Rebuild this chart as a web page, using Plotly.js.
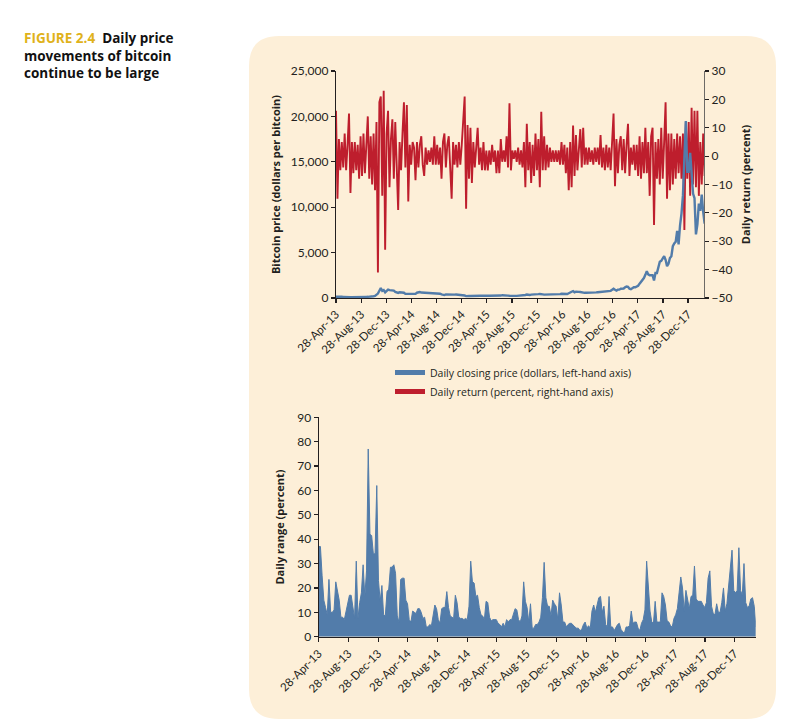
<!DOCTYPE html>
<html>
<head>
<meta charset="utf-8">
<script src="https://cdn.plot.ly/plotly-3.0.1.min.js"></script>
<style>
html,body{margin:0;padding:0;background:#ffffff;}
#chart{width:791px;height:723px;}
</style>
</head>
<body>
<div id="chart"></div>
<script>
// Weekly samples starting 28-Apr-2013
var startDate = '2013-04-28';

// Daily closing price, dollars (left-hand axis)
var price2013 = [135,115,115,122,130,120,100,100,105,88,77,95,90,97,105,105,113,122,140,130,130,125,130,130,145,175,190,220,320,490,800,1100,780,870,620,750];
var price2014 = [930,860,840,800,810,680,630,560,640,630,630,580,450,450,420,500,440,430,440,450,580,650,650,600,590,640,630,620,620,590,590,570,500,510,480,480,470,400,380,320,390,380,350,330,365,390,375,380,375,350,320,315];
var price2015 = [280,270,210,250,220,220,235,240,260,290,285,265,250,255,235,225,225,240,240,235,240,230,225,235,245,250,270,310,280,290,280,265,255,230,230,240,230,230,235,240,245,270,290,330,380,330,325,370,395,435,440,425];
var price2016 = [430,445,380,400,375,375,405,440,435,405,415,410,425,420,420,430,460,445,460,455,445,530,575,690,760,630,700,650,670,660,610,590,570,580,575,610,605,610,605,610,615,640,655,700,710,705,730,735,765,775,790,900];
var price2017 = [1020,900,820,920,920,1020,1000,1050,1180,1270,1230,1020,970,1090,1180,1180,1250,1350,1580,1760,2050,2200,2550,2950,2600,2500,2500,2500,1930,2750,2750,3250,4000,4100,4350,4600,4200,3500,3780,4400,4600,5700,6000,6200,7400,5900,8000,9300,11300,15200,19500,13900,13900];
var price2018 = [16000,13000,11500,11000,7000,8100,10400,9600,11400,9500,8200,8400];

// Daily return, percent (right-hand axis)
var dailyReturn = [
16,-15,6,-5,5,-4,8,-5,4,15,
-13,5,-6,5,-5,4,-8,7,-7,8,
-6,5,14,-8,7,-10,8,-12,12,-41,
19,21,-14,23,-33,8,16,-11,6,13,
-8,12,-6,-19,5,-5,8,19,-4,18,
-16,4,-3,5,3,-8.5,5,-4,4,7,
-3,-7,3,-3,2,-2,3,-3,7,-3,
4,-3,3,-8,5,8,-4,4,7,-4,
-15,5,-3,4,-4,5,-3,4,11,21,
-18.5,11,-8,10,-9.5,5,-4,4,10,-3,
3,-5,5,-5,2,-5,2,-3,4,-2,
2,-6,2,-6,6,-2,2,-2,7,-4,
18.6,-5,2,-1,2,-2,3,-3,2,-4,
5,-11,11.4,-5,5,-9.5,4,-7,8,-5,
6,-11,15.6,-5,7,-5,4,-4,3,-2,
2,-2,2,-2,2,-3,5,-3,4,-6,
3,-12,5,-11,10.8,-7,7.4,-5,4,9.5,
-4,10,-3,3,-3,3,-2,2,-3,3,
-2,3,-3,7.4,-4,3,-5,4,-4,3,
-5,5,15,-10.6,6,-6,4,7,-5,6,
-6,4,11.4,-7,3,-3,4,-5,4,-7,
7,-8,5,-6,10,-6,5,-14,7,10,
-24.3,5,-8,6,-10,10,-8,5,19,-15,
8,-12,8,-10,6,-8,8,-6,7,-8,
8,-26,12,-8,12,-14,17,-10,16,-11,
16,-14,5,-10,8,-7,5];

// Daily range, percent
var dailyRange = [
37,37,25,15,12,9,23.5,10,10,11,
22.5,18,15,8,8,7,10.5,12.5,17,17,
12,7.5,31,7.5,14,18,29.5,16.5,27,77,
42,41.5,34,34,62,23,14.5,21,9,8.5,
18.5,19.5,28.5,28.5,29.5,26,8.5,6,23.5,24,
24,15,13.5,7,6,10.5,10,9.5,11.5,11.5,
10,7.5,8,4,4,5,4.5,8,13,11.5,
7,5.5,11.5,12,12,18.5,12,8.5,8,7.5,
17,14,8,7.5,7.5,7,7.5,7,12.5,31,
22.5,22,16.5,17,12,9,8.5,7,14.5,14,
8,6.5,7,7,7,5.5,5,4,5.5,4,
7,6,7,7,9.5,11.5,11,7,6,8.5,
22.5,14.5,12,6,13.5,3.5,3.5,5,5,6,
8,16,30.5,16,12.5,12.5,8.5,15,13.5,12.5,
7,18,13,6,6,4,5,5.5,5.5,4.5,
4,3.5,3.5,2.5,3,5,6,3.5,4.5,3.5,
10.5,13,10,13,16,16.5,10,12.5,5,4,
16.5,4,4,2.5,4,5,5.5,3,2,1.5,
4,4,4.5,10.5,5.5,6,6,3.5,2.5,5.5,
7,11,31,21,10.5,6,5.5,14.5,6,6,
6,18,16.5,13,6.5,6,4.5,4,7.5,9,
11.5,18,24.5,20,10.5,19,15.5,11.5,16.5,17,
29,15.5,14.5,14.5,14.5,13,12,14,24,27,
12.5,9.5,9,13.5,10,10,14,20,10.5,13.5,
20,28,35.5,19,18,19,36.5,19,17,30,
14,12,12.5,15.5,16,12.5,4];

// Tick labels
var tickDates = ['2013-04-28','2013-08-28','2013-12-28','2014-04-28','2014-08-28','2014-12-28','2015-04-28','2015-08-28','2015-12-28','2016-04-28','2016-08-28','2016-12-28','2017-04-28','2017-08-28','2017-12-28'];
var tickLabels = ['28-Apr-13','28-Aug-13','28-Dec-13','28-Apr-14','28-Aug-14','28-Dec-14','28-Apr-15','28-Aug-15','28-Dec-15','28-Apr-16','28-Aug-16','28-Dec-16','28-Apr-17','28-Aug-17','28-Dec-17'];

var closingPrice = [].concat(price2013, price2014, price2015, price2016, price2017, price2018);

// weekly date grid
var dates = [];
var t0 = Date.UTC(2013, 3, 28);
for (var i = 0; i < closingPrice.length; i++) {
  var d = new Date(t0 + i * 7 * 86400000);
  dates.push(d.toISOString().slice(0, 10));
}

var BLUE = '#527CAA';
var RED = '#BE1E2D';
var INK = '#231F20';
var FONT = 'Lato, "Open Sans", sans-serif';
var BFONT = '"Open Sans", Lato, sans-serif';

function px(x) { return x / 791; }
function py(y) { return 1 - y / 723; }

var traces = [
  {x: dates, y: dailyReturn, type: 'scatter', mode: 'lines', xaxis: 'x', yaxis: 'y',
   line: {color: RED, width: 1.9}, showlegend: false, hoverinfo: 'skip'},
  {x: dates, y: closingPrice, type: 'scatter', mode: 'lines', xaxis: 'x', yaxis: 'y2',
   line: {color: BLUE, width: 2.4}, showlegend: false, hoverinfo: 'skip'},
  {x: [null], y: [null], type: 'scatter', mode: 'lines', xaxis: 'x', yaxis: 'y2',
   name: 'Daily closing price (dollars, left-hand axis)', line: {color: BLUE, width: 5}, showlegend: true},
  {x: [null], y: [null], type: 'scatter', mode: 'lines', xaxis: 'x', yaxis: 'y',
   name: 'Daily return (percent, right-hand axis)', line: {color: RED, width: 5}, showlegend: true},
  {x: dates, y: dailyRange, type: 'scatter', mode: 'lines', xaxis: 'x2', yaxis: 'y3',
   fill: 'tozeroy', fillcolor: BLUE, line: {color: BLUE, width: 1}, showlegend: false, hoverinfo: 'skip'}
];

var axisCommon = {
  showgrid: false, zeroline: false, showline: true, linecolor: INK, linewidth: 1.2,
  ticks: 'outside', ticklen: 4, tickwidth: 1.2, tickcolor: INK,
  tickfont: {family: FONT, size: 12, color: INK}
};

function merge(a, b) { var o = {}; for (var k in a) o[k] = a[k]; for (var k2 in b) o[k2] = b[k2]; return o; }

var r = 30;
var L = 249, R = 776, T = 36, B = 719;
var bgPath = 'M' + px(L + r) + ',' + py(T) +
  ' L' + px(R - r) + ',' + py(T) +
  ' Q' + px(R) + ',' + py(T) + ' ' + px(R) + ',' + py(T + r) +
  ' L' + px(R) + ',' + py(B - r) +
  ' Q' + px(R) + ',' + py(B) + ' ' + px(R - r) + ',' + py(B) +
  ' L' + px(L + r) + ',' + py(B) +
  ' Q' + px(L) + ',' + py(B) + ' ' + px(L) + ',' + py(B - r) +
  ' L' + px(L) + ',' + py(T + r) +
  ' Q' + px(L) + ',' + py(T) + ' ' + px(L + r) + ',' + py(T) + ' Z';

var layout = {
  width: 791, height: 723,
  margin: {l: 0, r: 0, t: 0, b: 0},
  paper_bgcolor: '#ffffff', plot_bgcolor: 'rgba(0,0,0,0)',
  font: {family: FONT, color: INK},
  showlegend: true,
  legend: {x: px(390), y: py(358), xanchor: 'left', yanchor: 'top', bgcolor: 'rgba(0,0,0,0)',
           font: {family: BFONT, size: 10.5, color: INK}, tracegroupgap: 0, itemwidth: 30},
  xaxis: merge(axisCommon, {domain: [px(336), px(704)], anchor: 'y', type: 'date',
          range: ['2013-04-28', '2018-03-15'], tickmode: 'array', tickvals: tickDates, ticktext: tickLabels,
          tickangle: -45, tickfont: {family: FONT, size: 11.5, color: INK}}),
  yaxis: merge(axisCommon, {domain: [py(298), py(71)], anchor: 'x', side: 'right', range: [-50, 30], dtick: 10,
          linecolor: '#6d6a66', tickcolor: INK,
          title: {text: '<b>Daily return (percent)</b>', font: {family: BFONT, size: 11, color: INK}, standoff: 10}}),
  yaxis2: merge(axisCommon, {overlaying: 'y', anchor: 'x', side: 'left', range: [0, 25000], dtick: 5000, tickformat: ',d',
          title: {text: '<b>Bitcoin price (dollars per bitcoin)</b>', font: {family: BFONT, size: 11, color: INK}, standoff: 8}}),
  xaxis2: merge(axisCommon, {domain: [px(318.7), px(755.7)], anchor: 'y3', type: 'date',
          range: ['2013-04-28', '2018-03-24'], tickmode: 'array', tickvals: tickDates, ticktext: tickLabels,
          tickangle: -45, tickfont: {family: FONT, size: 11.5, color: INK}, linewidth: 1.6}),
  yaxis3: merge(axisCommon, {domain: [py(636.7), py(417.3)], anchor: 'x2', range: [0, 90], dtick: 10,
          title: {text: '<b>Daily range (percent)</b>', font: {family: BFONT, size: 11, color: INK}, standoff: 10}}),
  shapes: [
    {type: 'path', xref: 'paper', yref: 'paper', path: bgPath, fillcolor: '#FDEFD8', line: {width: 0}, layer: 'below'}
  ],
  annotations: [
    {xref: 'paper', yref: 'paper', x: px(22), y: py(27), xanchor: 'left', yanchor: 'top', align: 'left', showarrow: false,
     text: '<b><span style="color:#E0B21B">FIGURE 2.4</span>  Daily price<br>movements of bitcoin<br>continue to be large</b>',
     font: {family: BFONT, size: 13.5, color: '#111111'}}
  ]
};

Plotly.newPlot('chart', traces, layout, {staticPlot: true, displayModeBar: false});
</script>
</body>
</html>
